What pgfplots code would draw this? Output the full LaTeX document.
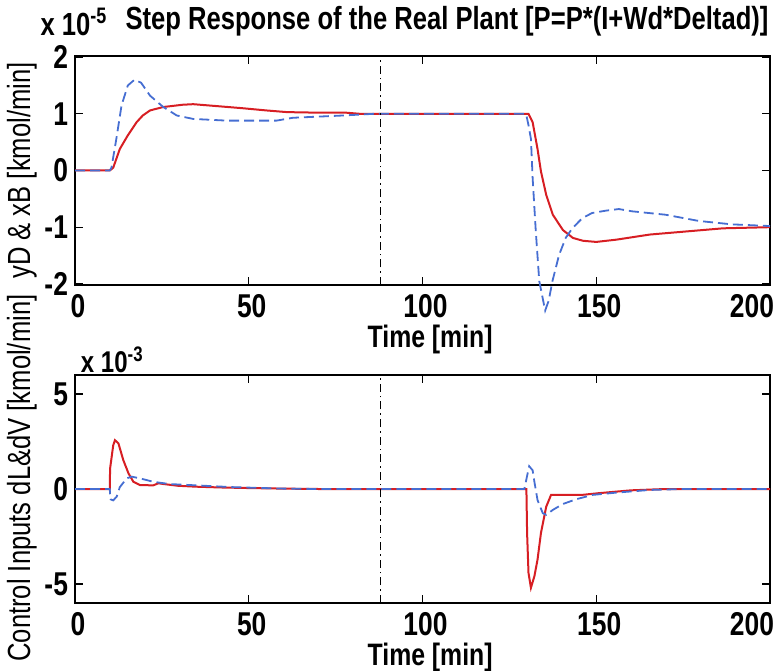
\documentclass[border=0pt]{standalone}
\usepackage{pgfplots}
\pgfplotsset{compat=1.18}
\usepackage{fontspec}
\setmainfont[FakeStretch=0.8]{Liberation Sans}
\definecolor{mred}{RGB}{215,30,35}
\definecolor{mblue}{RGB}{70,110,210}

\pgfplotsset{
  mstyle/.style={
    scale only axis,
    width=347.5pt,
    xmin=0, xmax=200,
    xtick={0,50,100,150,200},
    xticklabels={0,50,100,150,\hspace*{-21pt}200},
    tick align=inside,
    major tick length=4pt,
    clip=false,
    axis line style={black, line width=0.7pt},
    every tick/.style={black, line width=0.6pt},
    /pgf/number format/assume math mode=true,
    ticklabel style={font=\fontsize{16.5}{16.5}\selectfont\bfseries},
    xticklabel style={yshift=-1pt, xshift=1.5pt},
    label style={font=\fontsize{16}{16}\selectfont},
    xlabel style={font=\fontsize{15.5}{15.5}\selectfont\bfseries},
  },
}

\begin{document}
\begin{tikzpicture}
\useasboundingbox (0,0) rectangle (388pt,335pt);

% upper panel: outputs
\begin{axis}[mstyle,
  at={(37.5pt,192.5pt)}, anchor=south west,
  height=114.5pt,
  ymin=-2.02, ymax=2.02,
  ytick={-2,-1,0,1,2},
  xlabel={Time [min]},
  xlabel style={at={(axis description cs:0.511,-0.237)}, anchor=center},
  ylabel={yD \& xB [kmol/min]},
  ylabel style={at={(axis description cs:-0.0763,0.5)}, anchor=center},
]
\addplot[mred, line width=1pt] coordinates {
  (0,0) (10,0) (11,0.05) (12.9,0.38) (15.2,0.62) (17.7,0.85) (19.5,0.97)
  (21.6,1.06) (25.4,1.12) (31,1.16) (34,1.17) (40,1.14) (48,1.10) (55,1.06)
  (61,1.03) (70,1.02) (78,1.02) (82,1.0) (130.5,1.0) (131.7,0.85)
  (133.1,0.38) (134.1,-0.02) (135.6,-0.43) (137.5,-0.78) (140.4,-1.05)
  (143.3,-1.19) (146.2,-1.24) (150,-1.26) (155.8,-1.22) (165.4,-1.13)
  (175,-1.08) (186.5,-1.02) (200,-1.0)
};
\addplot[mblue, line width=0.9pt, dash pattern=on 5pt off 2.5pt] coordinates {
  (0,0) (10,0) (10.5,0.05) (11.9,0.56) (13.4,1.15) (15.2,1.5) (17.1,1.6)
  (19,1.55) (21.6,1.32) (25.4,1.12) (29.3,0.97) (34,0.91) (43.6,0.88)
  (58,0.88) (62.7,0.93) (77,0.97) (86,1.0) (129.8,1.0) (130.5,0.8)
  (131.2,0.56) (131.7,-0.14) (132.6,-1.07) (133.6,-1.95) (135.3,-2.47)
  (136.3,-2.3) (137.4,-1.95) (139.3,-1.49) (141.2,-1.19) (143.1,-1.02)
  (146,-0.84) (148.8,-0.75) (152.6,-0.71) (156.5,-0.68) (160.3,-0.72)
  (169.9,-0.78) (179.5,-0.89) (189,-0.95) (200,-0.98)
};
\addplot[black, line width=0.6pt, dash pattern=on 4pt off 2pt on 0.8pt off 2pt] coordinates {(88,-2.02) (88,2.02)};
\node[anchor=south west, font=\fontsize{16}{16}\selectfont\bfseries, inner sep=0pt]
  at (axis description cs:-0.05,1.085) {x 10\textsuperscript{-5}};
\end{axis}

\node[font=\fontsize{16}{16}\selectfont\bfseries, anchor=center] at (223.5pt,324.5pt)
  {Step Response of the Real Plant [P=P*(I+Wd*Deltad)]};

% lower panel: control inputs
\begin{axis}[mstyle,
  at={(37.5pt,33.5pt)}, anchor=south west,
  height=114pt,
  ymin=-6, ymax=6,
  ytick={-5,0,5},
  xlabel={Time [min]},
  xlabel style={at={(axis description cs:0.511,-0.24)}, anchor=center},
  ylabel={Control Inputs dL\&dV [kmol/min]},
  ylabel style={at={(axis description cs:-0.0763,0.548)}, anchor=center},
]
\addplot[mred, line width=1pt] coordinates {
  (0,0) (10,0) (10.1,1.08) (11,2.3) (11.5,2.57) (12.5,2.4) (13.9,1.52)
  (15.4,0.82) (16.8,0.38) (18.7,0.21) (22.5,0.19) (24,0.3) (26,0.25)
  (29.6,0.17) (35,0.12) (42,0.08) (50,0.05) (60,0.02) (70,0.0) (129.9,0.0)
  (130.1,-2.32) (130.5,-4.41) (131.2,-5.2) (132.2,-4.59) (133.1,-3.72)
  (134.1,-2.3) (135.6,-0.93) (137,-0.31) (145.9,-0.31) (150.7,-0.22)
  (160,-0.07) (170,0.0) (200,0.0)
};
\addplot[mblue, line width=0.9pt, dash pattern=on 5pt off 2.5pt] coordinates {
  (0,0) (10,0) (10.2,-0.54) (11,-0.6) (12,-0.4) (12.9,0.1) (14.9,0.56)
  (16.3,0.65) (18.7,0.56) (22.5,0.38) (27.2,0.26) (34,0.2) (45,0.1)
  (60,0.02) (70,0.0) (129.3,0.0) (130.7,1.2) (131.7,0.98) (132.2,0.38)
  (133.1,-0.58) (134.6,-1.27) (135.6,-1.36) (137.5,-1.1) (140.4,-0.79)
  (144.2,-0.54) (149,-0.31) (155.8,-0.19) (165.4,-0.05) (175,0.0) (200,0.0)
};
\addplot[black, line width=0.6pt, dash pattern=on 4pt off 2pt on 0.8pt off 2pt] coordinates {(88,-6) (88,6)};
\node[anchor=south west, font=\fontsize{15}{15}\selectfont\bfseries, inner sep=0pt]
  at (axis description cs:0.008,1.01) {x 10\textsuperscript{-3}};
\end{axis}
\end{tikzpicture}
\end{document}
